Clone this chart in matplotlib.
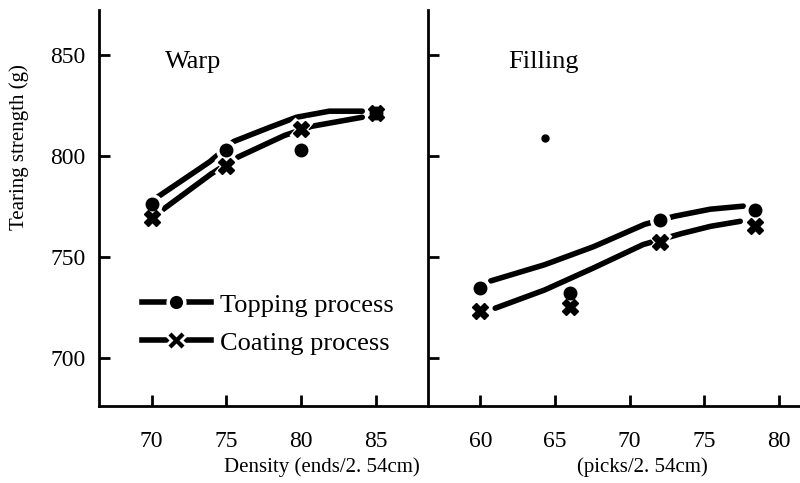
import matplotlib
matplotlib.use('agg')

import matplotlib.pyplot as plt
from matplotlib.lines import Line2D

plt.rcParams['font.family'] = ['Liberation Serif', 'DejaVu Serif']

# warp (left panel)
warp_x = [70, 75, 80, 85]
warp_topping = [776, 803, 803, 821]
warp_coating = [769, 795, 813, 821]
warp_topping_curve_x = [70.3, 73.9, 75.5, 77.9, 79.7, 81.9, 84.1]
warp_topping_curve_y = [779, 797, 807, 814, 819, 822, 822]
warp_coating_curve_x = [70.7, 74.0, 75.7, 78.9, 80.7, 84.1]
warp_coating_curve_y = [773, 791, 799, 810, 814.5, 819]

# filling (right panel)
fill_x = [60, 66, 72, 78.4]
fill_topping = [734.5, 732, 768, 773]
fill_coating = [723, 725, 757.5, 765]
fill_topping_curve_x = [60.7, 64.3, 67.6, 71.0, 73.0, 75.4, 77.6]
fill_topping_curve_y = [738, 746, 755, 766, 770, 773.5, 775]
fill_coating_curve_x = [61.0, 64.3, 67.6, 70.9, 73.5, 75.4, 77.4]
fill_coating_curve_y = [724.5, 733.5, 744.5, 756, 761.5, 765, 767.5]
stray_x = [64.3]
stray_y = [808.5]

yticks = [700, 750, 800, 850]
warp_ticks = [70, 75, 80, 85]
warp_ticklabels = ['70', '75', '80', '85']
fill_ticks = [60, 65, 70, 75, 80]
fill_ticklabels = ['60', '65', '70', '75', '80']

fig = plt.figure(figsize=(8, 4.83), dpi=100)
ax1 = fig.add_axes([0.124, 0.159, 0.411, 0.820])
ax2 = fig.add_axes([0.535, 0.159, 0.465, 0.820])


def draw_markers(ax, x, y, marker, size):
    ax.plot(x, y, linestyle='none', marker=marker, markersize=size + 5,
            color='white', zorder=3)
    ax.plot(x, y, linestyle='none', marker=marker, markersize=size,
            color='black', zorder=4)


for ax in (ax1, ax2):
    ax.set_ylim(676, 872)
    ax.spines['top'].set_visible(False)
    ax.spines['right'].set_visible(False)
    ax.spines['left'].set_linewidth(2)
    ax.spines['bottom'].set_linewidth(2)
    ax.set_yticks(yticks)
    ax.tick_params(axis='both', direction='in', length=8, width=2,
                   labelsize=17)
    ax.tick_params(axis='x', pad=18)
    ax.tick_params(axis='y', pad=10)

ax1.set_xlim(66.5, 88.5)
ax1.set_xticks(warp_ticks)
ax1.set_xticklabels(warp_ticklabels)
ax1.plot(warp_topping_curve_x, warp_topping_curve_y, color='black', lw=4,
         solid_capstyle='round', zorder=2)
ax1.plot(warp_coating_curve_x, warp_coating_curve_y, color='black', lw=4,
         solid_capstyle='round', zorder=2)
draw_markers(ax1, warp_x, warp_topping, 'o', 9)
draw_markers(ax1, warp_x, warp_coating, 'X', 11)
ax1.text(0.2, 0.869, 'Warp', transform=ax1.transAxes, fontsize=19,
         va='center')
ax1.set_ylabel('Tearing strength (g)', fontsize=15)
ax1.yaxis.set_label_coords(-0.215, 0.655)
ax1.set_xlabel('Density (ends/2. 54cm)', fontsize=15, va='center')
ax1.xaxis.set_label_coords(0.678, -0.154)

handles = [
    Line2D([], [], color='black', lw=4, marker='o', markersize=12,
           markeredgecolor='white', markeredgewidth=2.5),
    Line2D([], [], color='black', lw=4, marker='X', markersize=14,
           markeredgecolor='white', markeredgewidth=2),
]
ax1.legend(handles, ['Topping process', 'Coating process'], frameon=False,
           loc='center left', bbox_to_anchor=(0.13, 0.208), fontsize=19,
           handlelength=2.6, handletextpad=0.35, labelspacing=0.55,
           borderpad=0, borderaxespad=0)

ax2.set_xlim(56.5, 81.4)
ax2.set_xticks(fill_ticks)
ax2.set_xticklabels(fill_ticklabels)
ax2.set_yticklabels([])
ax2.plot(fill_topping_curve_x, fill_topping_curve_y, color='black', lw=4,
         solid_capstyle='round', zorder=2)
ax2.plot(fill_coating_curve_x, fill_coating_curve_y, color='black', lw=4,
         solid_capstyle='round', zorder=2)
draw_markers(ax2, fill_x, fill_topping, 'o', 9)
draw_markers(ax2, fill_x, fill_coating, 'X', 11)
ax2.plot(stray_x, stray_y, linestyle='none', marker='o', markersize=5,
         color='black')
ax2.text(0.215, 0.869, 'Filling', transform=ax2.transAxes, fontsize=19,
         va='center')
ax2.set_xlabel('(picks/2. 54cm)', fontsize=15, va='center')
ax2.xaxis.set_label_coords(0.575, -0.154)

plt.savefig('out.png', dpi=100)
